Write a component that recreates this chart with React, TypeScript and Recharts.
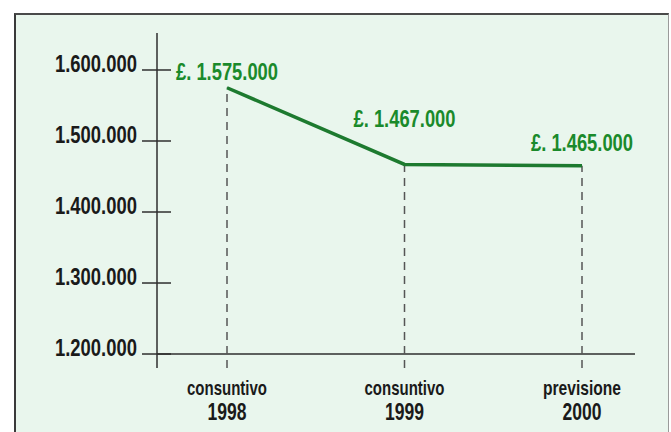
import React from "react";
import { LineChart, Line, XAxis, YAxis, ReferenceLine, LabelList } from "recharts";

const categories = ["consuntivo|1998", "consuntivo|1999", "previsione|2000"];
const values = [1575000, 1467000, 1465000];
const valueLabels = ["£. 1.575.000", "£. 1.467.000", "£. 1.465.000"];
const yTicks = [1200000, 1300000, 1400000, 1500000, 1600000];
const yTickLabels = ["1.200.000", "1.300.000", "1.400.000", "1.500.000", "1.600.000"];

const data = categories.map((c, i) => ({ cat: c, value: values[i], label: valueLabels[i] }));

const LABEL_DY = [-8, -37, -15];
const FONT = "'Liberation Sans', Arial, sans-serif";
const GREEN_LINE = "#1d7a2f";
const GREEN_TEXT = "#1a8a2b";
const AXIS = "#2e2e2e";
const Y_MIN = 1180300;
const Y_MAX = 1652100;

const YTick = (props: any) => {
  const { x, y, payload } = props;
  const idx = yTicks.indexOf(payload.value);
  return (
    <g>
      <line x1={x - 15} x2={x + 14} y1={y} y2={y} stroke={AXIS} strokeWidth={1.5} />
      <text
        x={x - 102}
        y={y + 2}
        textAnchor="start"
        fill="#1a1a1a"
        fontFamily={FONT}
        fontWeight={600}
        fontSize={23}
        textLength={82}
        lengthAdjust="spacingAndGlyphs"
      >
        {yTickLabels[idx]}
      </text>
    </g>
  );
};

const XTick = (props: any) => {
  const { x, payload } = props;
  const [a, b] = String(payload.value).split("|");
  const w1 = a === "previsione" ? 78 : 80;
  const w2 = 39;
  return (
    <g>
      <text x={x - w1 / 2} y={395} fill="#1a1a1a" fontFamily={FONT} fontWeight={600} fontSize={21} textLength={w1} lengthAdjust="spacingAndGlyphs">
        {a}
      </text>
      <text x={x - w2 / 2} y={420} fill="#1a1a1a" fontFamily={FONT} fontWeight={600} fontSize={23} textLength={w2} lengthAdjust="spacingAndGlyphs">
        {b}
      </text>
    </g>
  );
};

const ValueLabel = (props: any) => {
  const { x, y, index, value } = props;
  const w = 102;
  return (
    <text
      x={x - w / 2}
      y={y + LABEL_DY[index]}
      fill={GREEN_TEXT}
      fontFamily={FONT}
      fontWeight={600}
      fontSize={24}
      textLength={w}
      lengthAdjust="spacingAndGlyphs"
    >
      {value}
    </text>
  );
};

export default function App() {
  return (
    <div style={{ position: "absolute", left: 0, top: 0, width: 671, height: 432, background: "#ffffff", overflow: "hidden" }}>
      <div
        style={{
          position: "absolute",
          left: 14,
          top: 13,
          width: 652,
          height: 440,
          background: "#e9f6ed",
          borderLeft: "2px solid #3a3a3a",
          borderTop: "2px solid #4a4a4a",
          borderRight: "1.5px solid #9a9a9a",
        }}
      />
      <div style={{ position: "absolute", left: 0, top: 0 }}>
        <LineChart width={671} height={432} data={data} margin={{ top: 33, right: 36, bottom: 0, left: 0 }}>
          <XAxis
            dataKey="cat"
            axisLine={false}
            tickLine={false}
            padding={{ left: 70, right: 53 }}
            height={64}
            tick={<XTick />}
            interval={0}
          />
          <YAxis
            width={157}
            domain={[Y_MIN, Y_MAX]}
            ticks={yTicks}
            allowDataOverflow
            axisLine={{ stroke: AXIS, strokeWidth: 1.5 }}
            tickLine={false}
            tickSize={0}
            tickMargin={0}
            tick={<YTick />}
            interval={0}
          />
          <ReferenceLine y={1200000} stroke={AXIS} strokeWidth={1.5} />
          {data.map((d, i) => (
            <ReferenceLine
              key={i}
              segment={[
                { x: d.cat, y: Y_MIN },
                { x: d.cat, y: d.value },
              ]}
              stroke="#555"
              strokeWidth={1.5}
              strokeDasharray="8 6"
            />
          ))}
          <Line
            dataKey="value"
            stroke={GREEN_LINE}
            strokeWidth={3.5}
            dot={false}
            isAnimationActive={false}
          >
            <LabelList dataKey="label" content={<ValueLabel />} />
          </Line>
        </LineChart>
      </div>
    </div>
  );
}
